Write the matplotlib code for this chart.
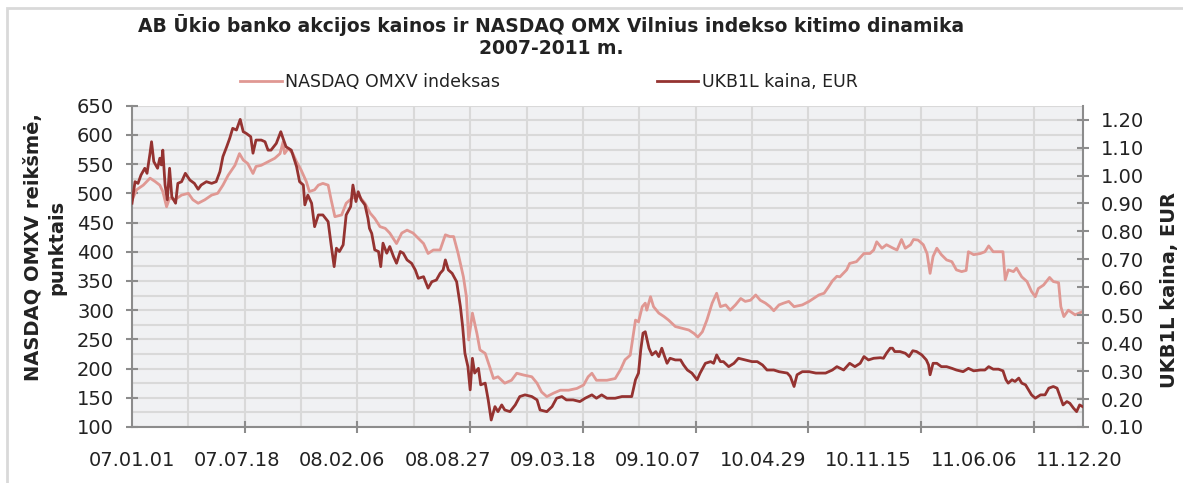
import numpy as np
import matplotlib
matplotlib.use('Agg')
import matplotlib.pyplot as plt
from matplotlib.patches import Rectangle
from matplotlib.lines import Line2D

# trading-day index (0 = 2007-01-01) and NASDAQ OMXV index values
omx_day = [0, 6, 15, 24, 31, 37, 41, 46, 50, 57, 66, 75, 81, 88, 97, 106, 114, 121, 128, 137,
           143, 148, 154, 161, 165, 172, 181, 190, 197, 201, 203, 208, 214, 219, 225, 232, 236, 243,
           248, 254, 261, 265, 270, 279, 285, 292, 301, 310, 317, 323, 330, 337, 343, 352, 359,
           366, 374, 381, 388, 394, 401, 410, 417, 423, 428, 434, 441, 445, 448, 453, 459, 463,
           470, 476, 481, 487, 496, 505, 512, 521, 532, 539, 545, 552, 561, 570, 581, 592, 601,
           607, 612, 618, 632, 643, 650, 656, 663, 668, 670, 674, 679, 683, 685, 690, 694, 701,
           708, 714, 723, 732, 741, 748, 753, 759, 765, 772, 778, 783, 790, 796, 803, 810, 816,
           823, 830, 836, 843, 849, 854, 861, 867, 874, 881, 892, 901, 907, 914, 921, 927, 932,
           938, 942, 951, 955, 964, 974, 982, 987, 991, 998, 1004, 1013, 1018, 1024, 1029, 1036,
           1040, 1046, 1053, 1058, 1062, 1066, 1071, 1077, 1084, 1091, 1097, 1104, 1110, 1113,
           1120, 1129, 1135, 1140, 1146, 1153, 1159, 1162, 1166, 1173, 1177, 1184, 1191, 1197,
           1202, 1206, 1213, 1221, 1226, 1233, 1236, 1240, 1246, 1255, 1264]
omx_val = [488, 506, 514, 526, 520, 514, 503, 477, 492, 489, 497, 500, 489, 483, 489, 497, 500,
           514, 531, 548, 568, 557, 551, 534, 546, 548, 554, 560, 568, 588, 568, 577, 568, 554,
           540, 520, 503, 506, 514, 517, 514, 489, 460, 463, 483, 491, 497, 483, 466, 457, 443,
           440, 432, 414, 432, 437, 432, 423, 414, 397, 403, 403, 429, 426, 426, 397, 357, 323,
           249, 295, 260, 232, 226, 203, 183, 186, 175, 180, 192, 189, 186, 175, 160, 152, 158,
           163, 163, 166, 172, 186, 192, 180, 180, 183, 198, 215, 223, 266, 283, 280, 306, 312,
           300, 323, 306, 295, 289, 283, 272, 269, 266, 260, 254, 263, 283, 312, 329, 306, 309,
           300, 309, 320, 315, 317, 326, 317, 312, 306, 299, 309, 312, 315, 306, 309, 315, 320,
           326, 329, 340, 350, 358, 357, 369, 380, 383, 397, 397, 403, 417, 406, 412, 406, 403,
           421, 406, 412, 421, 420, 412, 397, 363, 392, 406, 395, 386, 383, 369, 366, 368, 400,
           395, 397, 400, 410, 400, 400, 400, 352, 369, 366, 372, 357, 349, 332, 323, 337, 343,
           356, 349, 347, 306, 289, 300, 292, 297]

# UKB1L share price, EUR
ukb_day = [0, 4, 8, 12, 17, 20, 24, 26, 29, 34, 37, 39, 41, 44, 47, 50, 53, 58, 61, 66, 71, 77,
           83, 88, 92, 99, 106, 112, 117, 121, 126, 130, 134, 139, 144, 148, 152, 158, 161, 165,
           172, 177, 181, 185, 192, 198, 201, 205, 212, 219, 223, 228, 230, 234, 239, 243, 248,
           254, 261, 265, 269, 272, 276, 281, 285, 291, 294, 298, 301, 305, 310, 314, 316, 319,
           323, 328, 331, 334, 339, 343, 348, 352, 357, 361, 366, 372, 377, 381, 388, 394, 399,
           405, 410, 414, 417, 421, 426, 432, 437, 440, 443, 447, 450, 453, 456, 461, 464, 470,
           474, 478, 483, 487, 492, 496, 503, 510, 516, 523, 532, 539, 543, 552, 559, 565, 572,
           578, 587, 596, 603, 612, 618, 625, 632, 643, 652, 665, 670, 674, 677, 680, 683, 688,
           692, 697, 701, 705, 708, 712, 716, 723, 730, 734, 739, 745, 752, 756, 763, 770, 774,
           778, 783, 787, 794, 801, 807, 816, 825, 832, 839, 845, 854, 861, 872, 876, 881, 885,
           892, 901, 910, 923, 932, 938, 947, 955, 962, 969, 974, 980, 987, 996, 1000, 1004,
           1009, 1012, 1015, 1022, 1029, 1034, 1039, 1044, 1051, 1057, 1060, 1062, 1066, 1071,
           1077, 1084, 1091, 1097, 1106, 1113, 1120, 1129, 1135, 1140, 1146, 1153, 1159, 1163,
           1166, 1171, 1175, 1180, 1184, 1189, 1193, 1197, 1202, 1209, 1215, 1220, 1226, 1231,
           1235, 1239, 1244, 1248, 1253, 1257, 1261, 1265]
ukb_val = [0.901, 0.978, 0.972, 1.002, 1.026, 1.008, 1.080, 1.121, 1.050, 1.026, 1.062, 1.038,
           1.091, 0.966, 0.913, 1.026, 0.924, 0.901, 0.972, 0.978, 1.008, 0.984, 0.972, 0.951,
           0.966, 0.978, 0.972, 0.978, 1.014, 1.068, 1.103, 1.133, 1.169, 1.163, 1.201, 1.157,
           1.151, 1.139, 1.080, 1.127, 1.127, 1.121, 1.091, 1.091, 1.115, 1.157, 1.133, 1.103,
           1.091, 1.032, 0.978, 0.966, 0.895, 0.930, 0.901, 0.817, 0.859, 0.859, 0.835, 0.752,
           0.674, 0.740, 0.728, 0.752, 0.859, 0.889, 0.966, 0.907, 0.942, 0.913, 0.895, 0.847,
           0.811, 0.793, 0.734, 0.728, 0.674, 0.758, 0.722, 0.746, 0.710, 0.686, 0.728, 0.722,
           0.698, 0.686, 0.662, 0.632, 0.638, 0.597, 0.620, 0.626, 0.650, 0.662, 0.698, 0.662,
           0.650, 0.620, 0.531, 0.459, 0.364, 0.316, 0.233, 0.346, 0.293, 0.310, 0.251, 0.257,
           0.197, 0.125, 0.173, 0.155, 0.179, 0.161, 0.155, 0.179, 0.209, 0.215, 0.209, 0.197,
           0.161, 0.155, 0.173, 0.203, 0.209, 0.197, 0.197, 0.191, 0.203, 0.215, 0.203, 0.215,
           0.203, 0.203, 0.209, 0.209, 0.269, 0.293, 0.376, 0.436, 0.441, 0.382, 0.358, 0.370,
           0.352, 0.382, 0.358, 0.328, 0.346, 0.340, 0.340, 0.322, 0.304, 0.293, 0.269, 0.293,
           0.328, 0.334, 0.328, 0.358, 0.334, 0.334, 0.316, 0.328, 0.346, 0.340, 0.334, 0.334,
           0.322, 0.304, 0.304, 0.298, 0.293, 0.281, 0.245, 0.287, 0.298, 0.298, 0.293, 0.293,
           0.304, 0.316, 0.304, 0.328, 0.316, 0.328, 0.352, 0.340, 0.346, 0.348, 0.346, 0.364,
           0.382, 0.382, 0.370, 0.370, 0.364, 0.352, 0.373, 0.370, 0.358, 0.340, 0.322, 0.287,
           0.328, 0.328, 0.316, 0.316, 0.310, 0.304, 0.298, 0.310, 0.301, 0.304, 0.304, 0.316,
           0.307, 0.307, 0.301, 0.269, 0.257, 0.269, 0.263, 0.275, 0.257, 0.251, 0.233, 0.215,
           0.203, 0.215, 0.215, 0.239, 0.245, 0.239, 0.209, 0.179, 0.191, 0.185, 0.167, 0.155,
           0.179, 0.173]

n_days = 1266
label_pos = [0, 140, 280, 420, 560, 700, 840, 980, 1120, 1260]
label_txt = ['07.01.01', '07.07.18', '08.02.06', '08.08.27', '09.03.18',
             '09.10.07', '10.04.29', '10.11.15', '11.06.06', '11.12.20']

light = '#e09893'
dark = '#953331'
axis_col = '#8c8c8c'
grid_col = '#d9d9d9'
txt_col = '#222222'

fig = plt.figure(figsize=(11.83, 4.83), dpi=100)
ax = fig.add_axes([132 / 1183, 1 - 427 / 483, (1083 - 132) / 1183, (427 - 105.7) / 483])
ax.set_facecolor('#f0f1f3')

# gridlines
for xg in np.arange(75, n_days, 75):
    ax.axvline(xg, color=grid_col, lw=1.5, zorder=0.5)
ax.set_yticks(np.arange(100, 651, 50))
ax.set_yticks(np.arange(125, 650, 50), minor=True)
ax.grid(axis='y', which='both', color=grid_col, lw=1.5, zorder=0.5)
ax.set_axisbelow(True)

ax.plot(omx_day, omx_val, color=light, lw=2.0, zorder=3)
ax.set_ylim(100, 650)
ax.set_xlim(0, n_days - 0.5)

ax.set_xticks(label_pos)
ax.set_xticklabels(label_txt)
ax.set_xticks(np.arange(0, n_days, 150), minor=True)
ax.tick_params(axis='x', which='major', length=0, pad=17, labelsize=14, colors=txt_col)
ax.tick_params(axis='x', which='minor', direction='inout', length=9, width=1.5, color=axis_col)
ax.tick_params(axis='y', which='major', direction='inout', length=8, width=1.5, color=axis_col,
               labelsize=14, labelcolor=txt_col, pad=9)
ax.tick_params(axis='y', which='minor', length=0)

for s in ['top', 'right']:
    ax.spines[s].set_visible(False)
for s in ['left', 'bottom']:
    ax.spines[s].set_color(axis_col)
    ax.spines[s].set_linewidth(1.5)

ax2 = ax.twinx()
ax2.plot(ukb_day, ukb_val, color=dark, lw=2.0, zorder=4)
ax2.set_ylim(0.10, 1.25)
ax2.set_yticks(np.arange(0.1, 1.21, 0.1))
ax2.set_yticklabels(['%.2f' % v for v in np.arange(0.1, 1.21, 0.1)])
ax2.tick_params(axis='y', direction='inout', length=8, width=1.5, color=axis_col,
                labelsize=14, labelcolor=txt_col, pad=9)
for s in ['top', 'left', 'bottom']:
    ax2.spines[s].set_visible(False)
ax2.spines['right'].set_color(axis_col)
ax2.spines['right'].set_linewidth(1.5)

fig.text(45 / 1183, 1 - 247 / 483, 'NASDAQ OMXV reikšmė,\npunktais', rotation=90,
         ha='center', va='center', fontsize=14, fontweight='bold', color=txt_col,
         linespacing=1.25)
fig.text(1170 / 1183, 1 - 290 / 483, 'UKB1L kaina, EUR', rotation=90,
         ha='center', va='center', fontsize=14, fontweight='bold', color=txt_col)

fig.text(0.466, 1 - 36 / 483, 'AB Ūkio banko akcijos kainos ir NASDAQ OMX Vilnius indekso kitimo dinamika\n2007-2011 m.',
         ha='center', va='center', fontsize=13.5, fontweight='bold', color=txt_col,
         linespacing=1.25)

handles = [Line2D([], [], color=light, lw=2.0), Line2D([], [], color=dark, lw=2.0)]
fig.legend(handles, ['NASDAQ OMXV indeksas', 'UKB1L kaina, EUR'], loc='center',
           bbox_to_anchor=(549 / 1183, 1 - 82 / 483), ncol=2, frameon=False, fontsize=12.5,
           handlelength=2.4, columnspacing=9, handletextpad=0.2, labelcolor=txt_col)

fig.patches.append(Rectangle((7 / 1183, -0.1), 1.2, 1 - 8 / 483 + 0.1, transform=fig.transFigure,
                             fill=False, edgecolor='#d9d9d9', lw=2))

fig.savefig('out.png', dpi=100)
